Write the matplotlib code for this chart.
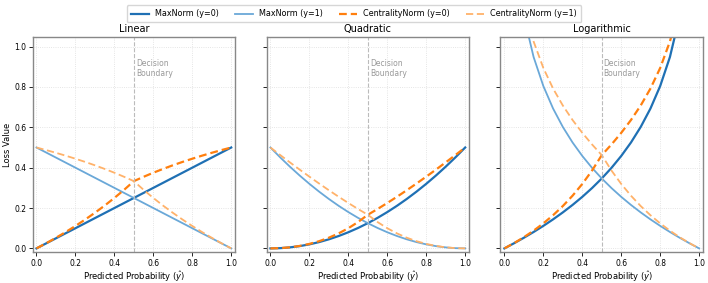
import numpy as np
import matplotlib
matplotlib.use("Agg")
import matplotlib.pyplot as plt

# predicted probability grid
p = [0.0, 0.05, 0.1, 0.15, 0.2, 0.25, 0.3, 0.35, 0.4, 0.45, 0.5,
     0.55, 0.6, 0.65, 0.7, 0.75, 0.8, 0.85, 0.9, 0.95, 1.0]

# Linear
lin_max_y0 = [0.0, 0.025, 0.05, 0.075, 0.1, 0.125, 0.15, 0.175, 0.2, 0.225, 0.25,
              0.275, 0.3, 0.325, 0.35, 0.375, 0.4, 0.425, 0.45, 0.475, 0.5]
lin_cen_y0 = [0.0, 0.0256, 0.0526, 0.0811, 0.1111, 0.1429, 0.1765, 0.2121, 0.25, 0.2903, 0.3333,
              0.3548, 0.375, 0.3939, 0.4118, 0.4286, 0.4444, 0.4595, 0.4737, 0.4872, 0.5]

# Quadratic
quad_max_y0 = [0.0, 0.00125, 0.005, 0.01125, 0.02, 0.03125, 0.045, 0.06125, 0.08, 0.10125, 0.125,
               0.15125, 0.18, 0.21125, 0.245, 0.28125, 0.32, 0.36125, 0.405, 0.45125, 0.5]
quad_cen_y0 = [0.0, 0.00128, 0.00526, 0.01216, 0.02222, 0.03571, 0.05294, 0.07424, 0.1, 0.13065, 0.16667,
               0.19516, 0.225, 0.25606, 0.28824, 0.32143, 0.35556, 0.39054, 0.42632, 0.46282, 0.5]

# Logarithmic (goes off the top near 1)
log_max_y0 = [0.0, 0.02565, 0.05268, 0.08126, 0.11157, 0.14384, 0.17834, 0.21539, 0.25541, 0.29892, 0.34657,
              0.39925, 0.45815, 0.52491, 0.60199, 0.69315, 0.80472, 0.94856, 1.15129, 1.49787, np.nan]
log_cen_y0 = [0.0, 0.0263, 0.05545, 0.08785, 0.12397, 0.16439, 0.20981, 0.26108, 0.31927, 0.3857, 0.4621,
              0.51517, 0.57268, 0.63626, 0.70822, 0.79217, 0.89413, 1.02547, 1.21189, 1.53627, np.nan]

# y=1 curves are the mirror images
panels = [
    ("Linear", lin_max_y0, lin_max_y0[::-1], lin_cen_y0, lin_cen_y0[::-1]),
    ("Quadratic", quad_max_y0, quad_max_y0[::-1], quad_cen_y0, quad_cen_y0[::-1]),
    ("Logarithmic", log_max_y0, log_max_y0[::-1], log_cen_y0, log_cen_y0[::-1]),
]

c_max0 = "#1f70b4"
c_max1 = "#6aa8d8"
c_cen0 = "#ff7f0e"
c_cen1 = "#ffb26a"

fig, axes = plt.subplots(1, 3, figsize=(7.08, 2.83), dpi=100, sharey=True)
fig.subplots_adjust(left=0.046, right=0.993, top=0.871, bottom=0.108, wspace=0.155)

for ax, (title, m0, m1, c0, c1) in zip(axes, panels):
    ax.plot(p, m0, color=c_max0, lw=1.6, label="MaxNorm (y=0)")
    ax.plot(p, m1, color=c_max1, lw=1.3, label="MaxNorm (y=1)")
    ax.plot(p, c0, color=c_cen0, lw=1.6, ls=(0, (3.5, 1.8)), label="CentralityNorm (y=0)")
    ax.plot(p, c1, color=c_cen1, lw=1.3, ls=(0, (4, 2)), label="CentralityNorm (y=1)")
    ax.axvline(0.5, color="#bbbbbb", lw=0.8, ls="--")
    ax.text(0.51, 0.89, "Decision\nBoundary", color="#999999", fontsize=5.5, va="center", linespacing=1.1)
    ax.set_title(title, fontsize=7, pad=3)
    ax.set_xlim(-0.02, 1.02)
    ax.set_ylim(-0.02, 1.05)
    ax.set_xticks([0, 0.2, 0.4, 0.6, 0.8, 1.0])
    ax.set_yticks([0, 0.2, 0.4, 0.6, 0.8, 1.0])
    ax.grid(True, ls=":", color="#dddddd", lw=0.6)
    ax.tick_params(labelsize=5.5, length=3, width=0.6, pad=2)
    ax.tick_params(axis="y", pad=1.5)
    ax.set_xlabel(r"Predicted Probability ($\hat{y}$)", fontsize=6, labelpad=0.5)
    for s in ax.spines.values():
        s.set_color("#888888")
        s.set_linewidth(1.0)

axes[0].set_ylabel("Loss Value", fontsize=6, labelpad=1.5)

handles, labels = axes[0].get_legend_handles_labels()
fig.legend(handles, labels, loc="upper center", bbox_to_anchor=(0.5, 0.995), ncol=4,
           fontsize=5.8, frameon=True, handlelength=2.2, columnspacing=2.0, borderpad=0.5)

plt.savefig("out.png", dpi=100)
